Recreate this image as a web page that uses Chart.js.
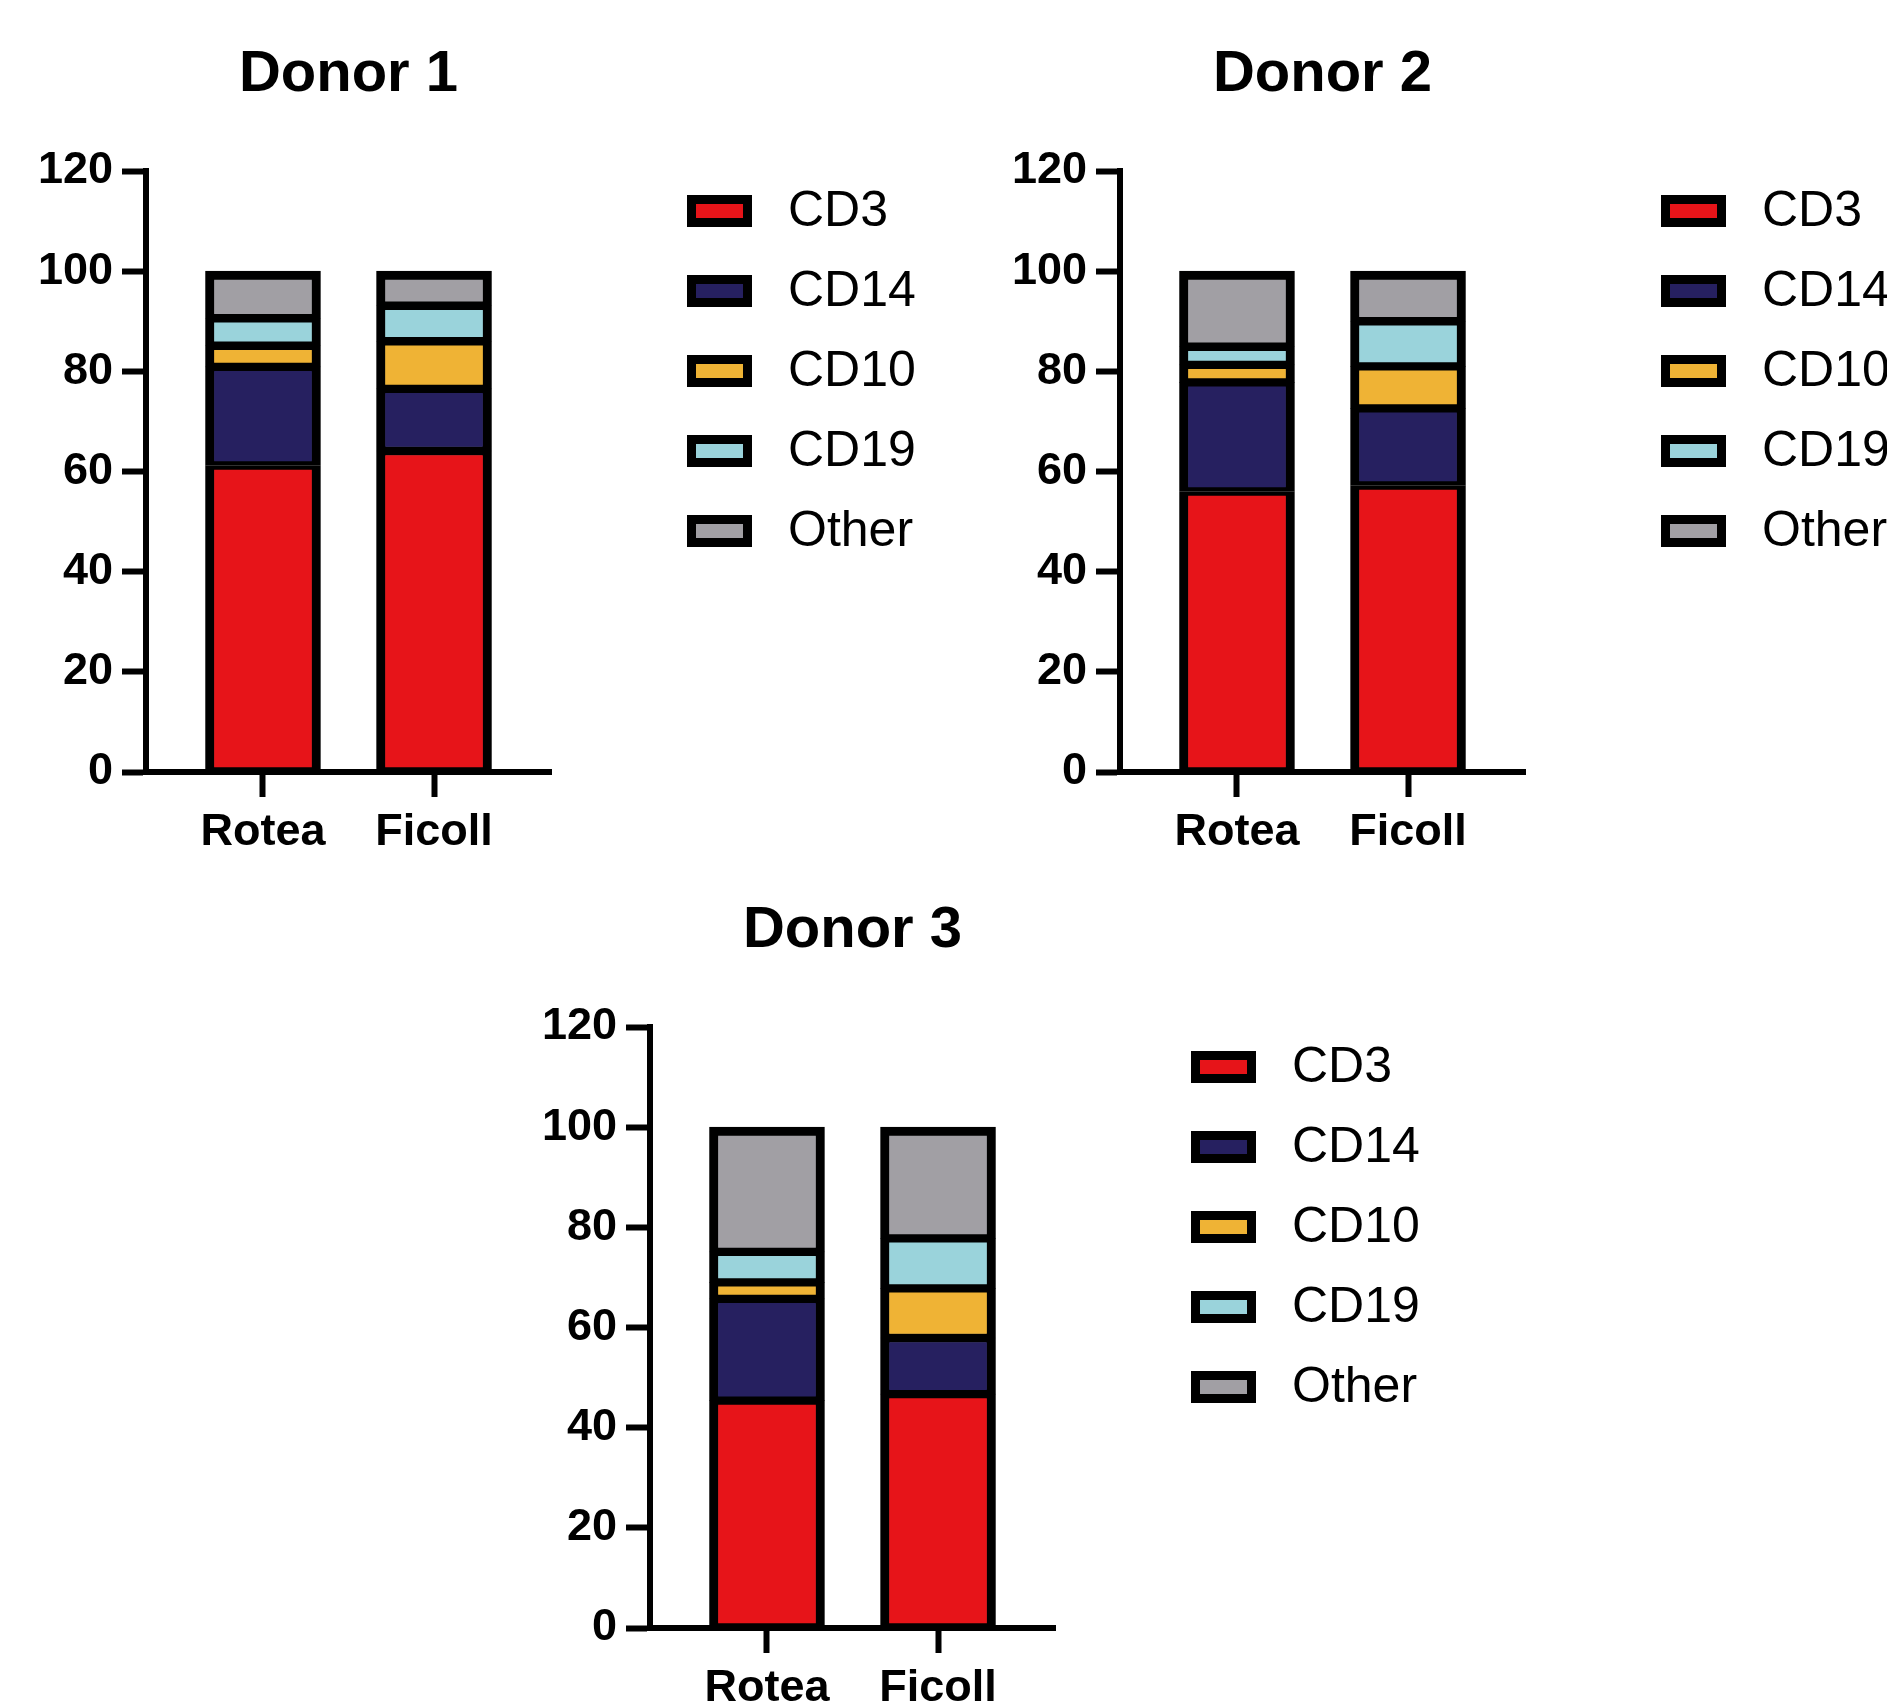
<!DOCTYPE html>
<html>
<head>
<meta charset="utf-8">
<title>Donor cell populations</title>
<script src="https://cdn.jsdelivr.net/npm/chart.js@4.4.0/dist/chart.umd.min.js"></script>
<style>
  html, body { margin: 0; padding: 0; background: #fff; overflow: hidden; }
  body { width: 1887px; height: 1703px; position: relative; }
  canvas { position: absolute; }
</style>
</head>
<body>
<canvas id="donor1" width="930" height="900" style="left:0px;top:0px"></canvas>
<canvas id="donor2" width="930" height="900" style="left:974px;top:0px"></canvas>
<canvas id="donor3" width="930" height="900" style="left:504px;top:856px"></canvas>
<script>
const categories = ['Rotea', 'Ficoll'];
const donors = ['Donor 1', 'Donor 2', 'Donor 3'];
const populations = ['CD3', 'CD14', 'CD10', 'CD19', 'Other'];
const colors = ['#E71419', '#262060', '#EFB335', '#9AD3DB', '#A19FA4'];

// percent of cells, one pair per donor: [Rotea, Ficoll]
const cd3 = [[61.2, 64.1], [56.0, 57.2], [45.4, 46.7]];
const cd14 = [[19.7, 12.4], [21.8, 15.4], [20.3, 11.2]];
const cd10 = [[4.2, 9.5], [3.5, 8.4], [3.3, 9.9]];
const cd19 = [[5.5, 7.1], [3.6, 9.0], [6.1, 10.0]];
const other = [[9.4, 6.9], [15.1, 10.0], [24.9, 22.2]];

const yMax = 120;
const yStep = 20;

const FONT = '"Liberation Sans", Arial, Helvetica, sans-serif';

// legend on the right, drawn next to the plot like the original
const sideLegend = {
    id: 'sideLegend',
    afterDraw(chart) {
        const { ctx, chartArea } = chart;
        ctx.save();
        chart.data.datasets.forEach((ds, i) => {
            const cy = chartArea.top + 40 + i * 80;
            const x = chartArea.right + 140.5;
            ctx.fillStyle = ds.backgroundColor;
            ctx.fillRect(x, cy - 11.5, 56, 23);
            ctx.lineWidth = 9;
            ctx.strokeStyle = '#000';
            ctx.strokeRect(x, cy - 11.5, 56, 23);
            ctx.fillStyle = '#000';
            ctx.font = '50px ' + FONT;
            ctx.textBaseline = 'middle';
            ctx.textAlign = 'left';
            ctx.fillText(ds.label, chartArea.right + 237, cy + 1);
        });
        ctx.restore();
    }
};

function makeChart(canvasId, donorIndex) {
    const series = [cd3, cd14, cd10, cd19, other];
    const datasets = populations.map((name, i) => ({
        label: name,
        data: series[i][donorIndex].map((v, j) => ({ x: j, y: v })),
        backgroundColor: colors[i],
        borderColor: '#000',
        borderWidth: { left: 9, right: 9, top: i === populations.length - 1 ? 9 : 4.5, bottom: 4.5 },
        borderSkipped: false,
        barThickness: 115
    }));

    return new Chart(document.getElementById(canvasId), {
        type: 'bar',
        data: { datasets },
        plugins: [sideLegend],
        options: {
            responsive: false,
            animation: false,
            layout: { padding: { left: 0, top: 0, right: 379, bottom: 0 } },
            plugins: {
                legend: { display: false },
                tooltip: { enabled: false },
                title: {
                    display: true,
                    text: donors[donorIndex],
                    fullSize: false,
                    color: '#000',
                    font: { family: FONT, size: 58, weight: 'bold' },
                    padding: { top: 40, bottom: 61.4 }
                }
            },
            scales: {
                x: {
                    type: 'linear',
                    stacked: true,
                    offset: false,
                    min: -0.684,
                    max: 1.684,
                    afterFit: (scale) => { scale.height = 128; },
                    border: { display: true, width: 6, color: '#000' },
                    grid: { offset: false, drawOnChartArea: false, drawTicks: true, tickLength: 25, tickWidth: 6, tickColor: '#000' },
                    ticks: {
                        stepSize: 1,
                        includeBounds: false,
                        autoSkip: false,
                        maxRotation: 0,
                        padding: 9,
                        color: '#000',
                        font: { family: FONT, size: 45, weight: 'bold' },
                        callback: (v) => categories[v] ?? ''
                    }
                },
                y: {
                    stacked: true,
                    min: 0,
                    max: yMax,
                    afterFit: (scale) => { scale.width = 146; },
                    border: { display: true, width: 6, color: '#000' },
                    grid: { drawOnChartArea: false, drawTicks: true, tickLength: 24, tickWidth: 6, tickColor: '#000' },
                    ticks: {
                        stepSize: yStep,
                        padding: 9,
                        color: '#000',
                        font: { family: FONT, size: 45, weight: 'bold' }
                    }
                }
            }
        }
    });
}

makeChart('donor1', 0);
makeChart('donor2', 1);
makeChart('donor3', 2);
</script>
</body>
</html>
